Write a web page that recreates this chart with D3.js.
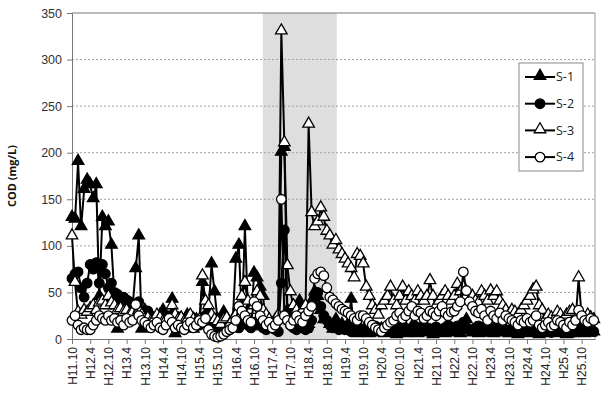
<!DOCTYPE html>
<html>
<head>
<meta charset="utf-8">
<script src="https://cdn.jsdelivr.net/npm/d3@7"></script>
<style>
  body { margin: 0; background: #fff; }
  svg { display: block; font-family: "Open Sans", "Liberation Sans", sans-serif; }
</style>
</head>
<body>
<div id="chart"></div>
<script>
// month index 0 = H11.10, one value per month
const tickLabels = [
  'H11.10', 'H12.4', 'H12.10', 'H13.4', 'H13.10', 'H14.4', 'H14.10', 'H15.4', 'H15.10',
  'H16.4', 'H16.10', 'H17.4', 'H17.10', 'H18.4', 'H18.10', 'H19.4', 'H19.10', 'H20.4',
  'H20.10', 'H21.4', 'H21.10', 'H22.4', 'H22.10', 'H23.4', 'H23.10', 'H24.4', 'H24.10',
  'H25.4', 'H25.10'
]
const tickMonths = tickLabels.map((_, i) => i * 6)
const shadeMonths = [62.9, 87.3]
const yTicks = [0, 50, 100, 150, 200, 250, 300, 350]

const s1 = [
  130, 128, 190, 120, 160, 170,
  165, 150, 165, 45, 130, 120,
  125, 100, 45, 10, 40, 35,
  30, 25, 35, 75, 110, 10,
  30, 20, 15, 20, 15, 25,
  30, 20, 15, 42, 5, 15,
  20, 15, 25, 20, 10, 20,
  15, 60, 25, 30, 80, 50,
  20, 10, 28, 10, 15, 20,
  85, 100, 20, 120, 30, 15,
  70, 65, 55, 45, 15, 10,
  15, 10, 20, 200, 205, 30,
  20, 35, 15, 40, 20, 10,
  15, 40, 50, 45, 30, 20,
  20, 15, 10, 20, 10, 15,
  10, 15, 42, 10, 5, 10,
  8, 12, 5, 10, 6, 8,
  10, 5, 8, 12, 6, 4,
  8, 10, 5, 7, 12, 6,
  5, 9, 12, 6, 8, 4,
  10, 6, 8, 5, 12, 7,
  6, 9, 5, 14, 20, 8,
  6, 10, 5, 8, 12, 6,
  9, 5, 7, 10, 6, 8,
  5, 8, 6, 4, 9, 6,
  7, 5, 8, 6, 4, 7,
  5, 8, 6, 9, 5, 7,
  6, 4, 8, 5, 7, 10,
  6, 5, 8, 6, 7
]
const s2 = [
  65, 70, 72, 55, 45, 60,
  80, 75, 82, 60, 80, 70,
  55, 60, 50, 48, 45, 45,
  42, 40, 38, 35, 40, 30,
  28, 30, 25, 22, 20, 22,
  18, 20, 25, 22, 18, 24,
  20, 18, 22, 25, 20, 18,
  15, 20, 25, 22, 18, 15,
  12, 10, 15, 12, 10, 14,
  15, 12, 18, 20, 15, 12,
  18, 15, 20, 12, 10, 15,
  12, 10, 8, 60, 117, 20,
  15, 12, 10, 14, 12, 10,
  12, 20, 45, 50, 35, 25,
  20, 15, 12, 18, 10, 12,
  10, 12, 8, 10, 12, 8,
  10, 8, 12, 9, 14, 10,
  12, 9, 11, 14, 8, 10,
  12, 15, 10, 8, 12, 14,
  10, 12, 15, 9, 11, 10,
  13, 10, 8, 12, 15, 10,
  12, 14, 10, 18, 12, 10,
  9, 12, 14, 10, 8, 12,
  14, 10, 12, 9, 11, 10,
  8, 10, 12, 9, 7, 10,
  9, 12, 10, 8, 10, 9,
  8, 10, 7, 9, 11, 8,
  10, 8, 9, 7, 10, 12,
  9, 8, 10, 9, 8
]
const s3 = [
  110, 60, 28, 25, 30, 28,
  32, 35, 30, 38, 40, 35,
  45, 38, 35, 30, 32, 28,
  30, 25, 28, 22, 30, 25,
  20, 22, 18, 20, 25, 22,
  18, 20, 15, 35, 25, 20,
  22, 18, 20, 25, 20, 18,
  20, 67, 40, 35, 25, 20,
  18, 15, 20, 22, 15, 20,
  25, 35, 45, 60, 40, 30,
  35, 50, 45, 30, 25, 20,
  15, 20, 25, 330, 210, 78,
  50, 35, 30, 25, 30, 35,
  230, 135, 120, 125, 140, 130,
  115, 110, 100, 105, 95, 90,
  85, 80, 75, 65, 90, 88,
  80, 55, 45, 35, 30, 25,
  35, 40, 45, 55, 40, 35,
  45, 55, 40, 50, 45, 40,
  50, 45, 40, 45, 62, 45,
  35, 40, 45, 50, 45, 40,
  45, 58, 50, 55, 45, 40,
  45, 40, 38, 50, 45, 40,
  51, 45, 50, 40, 35, 30,
  25, 30, 28, 25, 30, 35,
  40, 45, 52, 55, 35, 30,
  20, 25, 22, 20, 28, 25,
  20, 25, 28, 30, 20, 65,
  25, 20, 25, 22, 20
]
const s4 = [
  20, 25, 15, 10, 12, 10,
  10, 15, 20, 25, 22, 20,
  25, 20, 22, 18, 20, 15,
  22, 18, 20, 37, 25, 20,
  18, 15, 12, 15, 18, 12,
  10, 15, 22, 18, 12, 15,
  12, 10, 15, 18, 12, 15,
  20, 18, 22, 10, 5, 3,
  2, 3, 5, 8, 10, 12,
  20, 35, 30, 25, 20, 18,
  40, 35, 25, 20, 15, 18,
  12, 15, 20, 150, 25, 20,
  15, 20, 25, 20, 18, 25,
  30, 35, 65, 70, 72, 68,
  55, 45, 42, 38, 35, 32,
  30, 28, 25, 22, 20, 25,
  25, 22, 18, 15, 12, 10,
  8, 12, 15, 18, 20, 25,
  28, 22, 25, 30, 35, 25,
  30, 28, 22, 25, 30, 28,
  25, 30, 35, 28, 25, 29,
  30, 35, 40, 72, 52, 40,
  35, 30, 28, 32, 25, 20,
  30, 25, 22, 28, 20, 25,
  22, 20, 18, 15, 20, 18,
  22, 18, 20, 25, 15, 12,
  15, 18, 13, 15, 20, 18,
  15, 12, 18, 15, 20, 31,
  25, 20, 18, 22, 20
]

const seriesNames = ['S-1', 'S-2', 'S-3', 'S-4']
const seriesValues = [s1, s2, s3, s4]
const markerShapes = ['triangle', 'circle', 'triangle', 'circle']
const markerFills = ['#000', '#000', '#fff', '#fff']

const width = 601
const height = 396
const margin = { top: 13, right: 6, bottom: 57, left: 72 }
const innerW = width - margin.left - margin.right
const innerH = height - margin.top - margin.bottom

const svg = d3.select('#chart')
  .append('svg')
  .attr('width', width)
  .attr('height', height)

const g = svg.append('g')
  .attr('transform', `translate(${margin.left},${margin.top})`)

const x = d3.scaleLinear().domain([0, 172.4]).range([0, innerW])
const y = d3.scaleLinear().domain([0, 350]).range([innerH, 0])

// shaded period
g.append('rect')
  .attr('x', x(shadeMonths[0]))
  .attr('y', 0)
  .attr('width', x(shadeMonths[1]) - x(shadeMonths[0]))
  .attr('height', innerH)
  .attr('fill', '#dedede')

// grid
g.append('g')
  .selectAll('line')
  .data(yTicks.filter(d => d > 0 && d < 350))
  .join('line')
  .attr('x1', 0)
  .attr('x2', innerW)
  .attr('y1', d => y(d))
  .attr('y2', d => y(d))
  .attr('stroke', '#a0a0a0')
  .attr('stroke-width', 1)
  .attr('stroke-dasharray', '2,2')

// frame top/right
g.append('line')
  .attr('x1', 0).attr('x2', innerW)
  .attr('y1', 0).attr('y2', 0)
  .attr('stroke', '#777')
g.append('line')
  .attr('x1', innerW).attr('x2', innerW)
  .attr('y1', 0).attr('y2', innerH)
  .attr('stroke', '#999')

// y axis
const yAxis = g.append('g')
  .call(d3.axisLeft(y).tickValues(yTicks).tickSize(5).tickPadding(5))
yAxis.select('.domain').attr('stroke', '#777')
yAxis.selectAll('.tick line').attr('stroke', '#777')
yAxis.selectAll('text')
  .attr('font-size', 12.5)
  .attr('fill', '#333')

// x axis
const xAxis = g.append('g')
  .attr('transform', `translate(0,${innerH})`)
  .call(d3.axisBottom(x).tickValues(tickMonths).tickFormat((d, i) => tickLabels[i]).tickSize(5).tickSizeOuter(0))
xAxis.select('.domain').attr('stroke', '#777')
xAxis.selectAll('.tick line').attr('stroke', '#777')
xAxis.selectAll('text')
  .attr('font-size', 12)
  .attr('fill', '#222')
  .attr('transform', 'rotate(-90)')
  .attr('text-anchor', 'end')
  .attr('x', -8)
  .attr('y', 0)
  .attr('dy', '0.35em')

// y title
svg.append('text')
  .attr('transform', `translate(16,${margin.top + innerH / 2}) rotate(-90)`)
  .attr('text-anchor', 'middle')
  .attr('font-size', 11)
  .attr('font-weight', 'bold')
  .attr('fill', '#111')
  .text('COD (mg/L)')

const line = d3.line()
  .x((d, i) => x(i))
  .y(d => y(d))

const triangle = d3.symbol().type(d3.symbolTriangle).size(58)

function drawMarker(sel, shape, fill) {
  if (shape === 'circle') {
    sel.append('circle')
      .attr('r', 4.8)
      .attr('fill', fill)
      .attr('stroke', '#000')
      .attr('stroke-width', 1.3)
  } else {
    sel.append('path')
      .attr('d', triangle)
      .attr('transform', 'translate(0,-1)')
      .attr('fill', fill)
      .attr('stroke', '#000')
      .attr('stroke-width', 1.3)
  }
}

seriesValues.forEach((vals, si) => {
  const sg = g.append('g')
  sg.append('path')
    .datum(vals)
    .attr('d', line)
    .attr('fill', 'none')
    .attr('stroke', '#000')
    .attr('stroke-width', 2)
  sg.selectAll('g')
    .data(vals)
    .join('g')
    .attr('transform', (d, i) => `translate(${x(i)},${y(d)})`)
    .each(function () { drawMarker(d3.select(this), markerShapes[si], markerFills[si]) })
})

// legend
const legend = svg.append('g').attr('transform', 'translate(519,63)')
legend.append('rect')
  .attr('width', 64)
  .attr('height', 108)
  .attr('fill', '#fff')
  .attr('stroke', '#888')

seriesNames.forEach((name, i) => {
  const row = legend.append('g').attr('transform', `translate(0,${14 + i * 26.7})`)
  row.append('line')
    .attr('x1', 6).attr('x2', 36)
    .attr('stroke', '#000')
    .attr('stroke-width', 2)
  const m = row.append('g').attr('transform', 'translate(21,0)')
  drawMarker(m, markerShapes[i], markerFills[i])
  row.append('text')
    .attr('x', 37)
    .attr('dy', '0.35em')
    .attr('font-size', 12.5)
    .attr('fill', '#222')
    .text(name)
})
</script>
</body>
</html>
